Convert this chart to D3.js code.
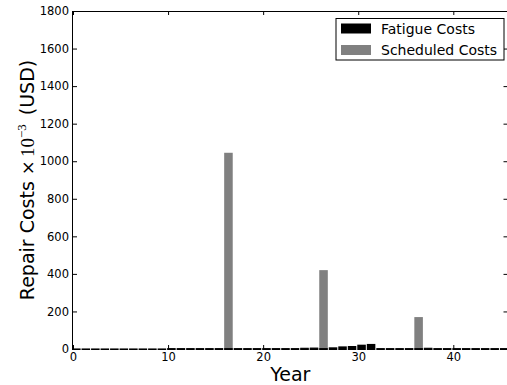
<!DOCTYPE html>
<html>
<head>
<meta charset="utf-8">
<script src="https://cdn.jsdelivr.net/npm/d3@7"></script>
<style>
  html, body { margin: 0; padding: 0; background: #fff; }
  svg { display: block; }
  text { font-family: "DejaVu Sans", sans-serif; fill: #000; }
</style>
</head>
<body>
<svg id="chart" width="507" height="385"></svg>
<script>
// Yearly repair costs (thousands of USD), years 0..45
const years = d3.range(0, 46);
const fatigueCosts = [
  3, 3, 3, 3, 3, 3, 3, 3, 3, 3,
  5, 5, 5, 5, 5, 5, 5, 5, 5, 5,
  5, 5, 5, 5, 5, 5, 5, 9, 14, 16,
  23, 27, 5, 5, 5, 5, 5, 5, 5, 5,
  5, 5, 5, 5, 5, 5
];
const scheduledCosts = [
  0, 0, 0, 0, 0, 0, 0, 0, 0, 0,
  0, 0, 0, 0, 0, 0, 1045, 0, 0, 0,
  0, 0, 0, 0, 8, 10, 420, 0, 0, 0,
  0, 0, 0, 0, 0, 0, 170, 8, 0, 0,
  0, 0, 0, 0, 0, 0
];
const yTicks = [0, 200, 400, 600, 800, 1000, 1200, 1400, 1600, 1800];
const xTicks = [0, 10, 20, 30, 40];
const seriesNames = ["Fatigue Costs", "Scheduled Costs"];
const seriesColors = ["#000000", "#808080"];

const svg = d3.select("#chart");
const plotLeft = 73, plotRight = 507.5, plotTop = 11, plotBottom = 349;

const x = d3.scaleLinear().domain([0, 45.7]).range([plotLeft, plotRight]);
const y = d3.scaleLinear().domain([0, 1800]).range([plotBottom, plotTop]);

const barOffset = 0.1, barWidth = 0.9;

svg.append("clipPath").attr("id", "plotClip")
  .append("rect").attr("x", plotLeft).attr("y", plotTop)
  .attr("width", plotRight - plotLeft).attr("height", plotBottom - plotTop + 2);

const plot = svg.append("g").attr("clip-path", "url(#plotClip)");

// frame lines (bottom edge is formed by the bars themselves)
svg.append("line").attr("x1", plotLeft - 0.5).attr("x2", plotLeft - 0.5)
  .attr("y1", plotTop).attr("y2", plotBottom + 1).attr("stroke", "#000");
svg.append("line").attr("x1", plotLeft - 1).attr("x2", plotRight)
  .attr("y1", plotTop + 0.5).attr("y2", plotTop + 0.5).attr("stroke", "#000");
svg.append("line").attr("x1", plotRight).attr("x2", plotRight)
  .attr("y1", plotTop).attr("y2", plotBottom).attr("stroke", "#000");

// scheduled cost bars (behind)
plot.selectAll("rect.sched").data(years.filter(d => scheduledCosts[d] > 0))
  .join("rect").attr("class", "sched")
  .attr("x", d => x(d - barOffset))
  .attr("width", d => x(d - barOffset + barWidth) - x(d - barOffset))
  .attr("y", d => y(scheduledCosts[d]))
  .attr("height", d => y(0) - y(scheduledCosts[d]) + 1)
  .attr("fill", seriesColors[1]);

// fatigue cost bars
plot.selectAll("rect.fat").data(years)
  .join("rect").attr("class", "fat")
  .attr("x", d => x(d - barOffset))
  .attr("width", d => x(d - barOffset + barWidth) - x(d - barOffset))
  .attr("y", d => y(fatigueCosts[d]))
  .attr("height", d => y(0) - y(fatigueCosts[d]) + 1)
  .attr("fill", seriesColors[0]);

// axes with inward ticks
const axisBottom = d3.axisBottom(x).tickValues(xTicks).tickFormat(d3.format("d"))
  .tickSizeInner(-4).tickSizeOuter(0).tickPadding(4);
const axisTop = d3.axisTop(x).tickValues(xTicks).tickFormat("")
  .tickSizeInner(-4).tickSizeOuter(0);
const axisLeft = d3.axisLeft(y).tickValues(yTicks).tickFormat(d3.format("d"))
  .tickSizeInner(-4).tickSizeOuter(0).tickPadding(4);
const axisRight = d3.axisRight(y).tickValues(yTicks).tickFormat("")
  .tickSizeInner(-4).tickSizeOuter(0);

function styleAxis(g) {
  g.select(".domain").remove();
  g.selectAll(".tick line").attr("stroke", "#000");
  g.selectAll(".tick text").attr("font-size", 11.5)
    .attr("font-family", "DejaVu Sans").attr("fill", "#000");
}
svg.append("g").attr("transform", `translate(0,${plotBottom})`).call(axisBottom).call(styleAxis);
svg.append("g").attr("transform", `translate(0,${plotTop})`).call(axisTop).call(styleAxis);
svg.append("g").attr("transform", `translate(${plotLeft},0)`).call(axisLeft).call(styleAxis);
svg.append("g").attr("transform", `translate(${plotRight},0)`).call(axisRight).call(styleAxis);

// axis titles
svg.append("text").attr("x", (plotLeft + plotRight) / 2).attr("y", 381)
  .attr("text-anchor", "middle").attr("font-size", 19).text("Year");

const yl = svg.append("text")
  .attr("transform", `translate(34,${(plotTop + plotBottom) / 2}) rotate(-90)`)
  .attr("text-anchor", "middle").attr("font-size", 19);
yl.append("tspan").text("Repair Costs ");
yl.append("tspan").attr("font-family", "DejaVu Sans").attr("font-size", 18).text("\u00d7");
yl.append("tspan").attr("font-family", "Liberation Serif").attr("dx", 3).text("10");
yl.append("tspan").attr("font-family", "Liberation Serif").attr("font-size", 13)
  .attr("dy", -8).text("\u22123");
yl.append("tspan").attr("dy", 8).attr("dx", 9).text("(USD)");

// legend
const lg = svg.append("g");
lg.append("rect").attr("x", 336).attr("y", 18.5).attr("width", 168).attr("height", 41.5)
  .attr("fill", "#fff").attr("stroke", "#000");
seriesNames.forEach((name, i) => {
  const yy = 23.5 + i * 21.5;
  lg.append("rect").attr("x", 341).attr("y", yy).attr("width", 30).attr("height", 10)
    .attr("fill", seriesColors[i]);
  lg.append("text").attr("x", 381).attr("y", yy + 10).attr("font-size", 14).text(name);
});
</script>
</body>
</html>
